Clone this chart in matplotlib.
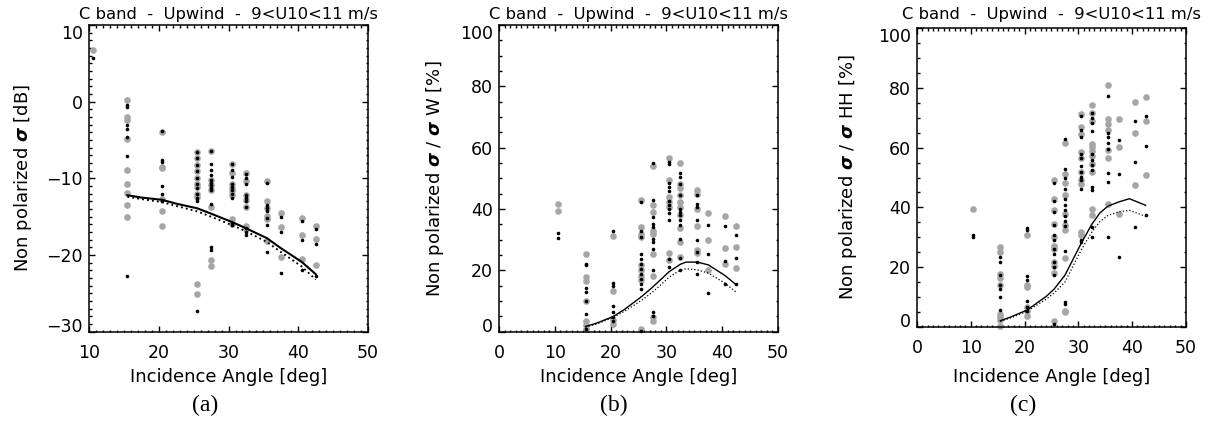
import numpy as np
import matplotlib
matplotlib.use("Agg")
import matplotlib.pyplot as plt
from matplotlib.ticker import MultipleLocator

# incidence angle columns shared by all panels
angles = [10.5, 15.5, 20.5, 25.5, 27.5, 30.5, 32.5, 35.5, 37.5, 40.5, 42.5]

# (a) non polarized sigma in dB
a_gray = [[6.8],
          [0.2, -2.0, -2.4, -4.9, -8.9, -10.7, -11.9, -13.5, -15.0],
          [-4.0, -8.5, -8.7, -12.7, -14.3, -16.2],
          [-6.5, -7.4, -8.3, -9.1, -10.0, -10.7, -11.1, -12.0, -12.4, -23.8, -25.1],
          [-6.4, -10.2, -10.9, -11.5, -13.7, -20.7, -21.4],
          [-8.1, -9.3, -10.7, -11.3, -11.7, -12.2, -15.3, -15.9],
          [-9.3, -10.4, -12.2, -12.8, -13.7, -16.2, -16.6],
          [-10.3, -13.0, -13.9, -14.9, -15.3, -18.2],
          [-14.5, -16.3, -20.2],
          [-15.2, -17.4, -20.5],
          [-16.2, -17.9, -21.3]]
a_black = [[5.7],
           [-0.4, -0.7, -3.0, -3.5, -4.6, -7.1, -22.7],
           [-3.8, -7.6, -7.9, -11.0, -12.0, -13.0],
           [-6.5, -7.4, -8.3, -9.1, -10.0, -10.7, -11.3, -12.0, -12.6, -13.0, -27.3],
           [-6.4, -8.1, -8.9, -9.6, -10.2, -10.6, -10.9, -11.2, -11.5, -13.3, -18.9, -19.4],
           [-8.1, -8.9, -9.8, -10.7, -11.1, -11.5, -12.0, -12.6, -15.8, -16.1],
           [-9.4, -10.0, -10.7, -12.2, -12.6, -13.0, -13.7, -16.5, -17.0, -17.4],
           [-10.6, -13.5, -13.9, -14.3, -15.2, -16.1, -19.6],
           [-15.0, -17.0, -22.3],
           [-15.6, -18.1, -22.0],
           [-16.6, -18.6, -22.7]]
a_curve_x = [15.5, 17.5, 20.5, 22.5, 25.5, 27.5, 30.5, 32.5, 35.5, 37.5, 40.5, 42.5]
a_solid = [-12.2, -12.5, -12.8, -13.3, -13.9, -14.6, -15.7, -16.5, -17.8, -19.1, -20.9, -22.5]
a_dotted = [-12.4, -12.7, -13.1, -13.6, -14.3, -15.0, -16.1, -16.9, -18.3, -19.6, -21.5, -23.2]

# (b) ratio to sigma VV in percent
b_gray = [[41.8, 39.4],
          [25.2, 17.8, 16.5, 10.1, 3.6, 2.3, 0.9],
          [31.1, 13.4, 3.8, 2.5],
          [42.9, 34.1, 32.0, 30.9, 21.6, 20.0, 18.3, 16.7, 0.9],
          [54.1, 41.2, 39.0, 33.0, 32.0, 25.4, 18.3, 4.7, 3.4],
          [56.5, 49.4, 43.9, 42.3, 40.7, 25.6, 23.4],
          [54.9, 48.3, 46.7, 44.5, 42.3, 40.7, 38.0, 33.9, 29.2, 24.5],
          [46.3, 45.0, 40.1, 34.4, 26.5, 25.8],
          [38.7, 30.0, 20.2],
          [37.6, 27.3, 22.1],
          [34.4, 27.5, 20.8]]
b_black = [[32.3, 30.4],
           [22.1, 21.6, 14.3, 12.9, 9.9, 5.8, 0.9],
           [33.0, 15.8, 15.0, 8.5, 6.3, 4.9, 3.6],
           [42.3, 33.0, 30.9, 25.4, 23.8, 22.1, 20.5, 18.9, 17.2, 15.6, 14.0, 0.3],
           [55.1, 42.9, 37.4, 35.2, 34.1, 30.3, 29.2, 27.0, 20.2, 6.3, 5.2],
           [55.4, 54.6, 48.5, 47.2, 45.9, 42.5, 41.4, 40.1, 38.7, 36.3, 23.6, 21.0],
           [51.8, 50.5, 48.3, 44.5, 40.1, 39.0, 38.0, 36.3, 34.7, 30.3, 24.1, 20.0],
           [44.5, 41.5, 40.7, 36.5, 29.8, 26.0, 22.7, 18.9],
           [34.9, 25.4, 12.5],
           [34.4, 23.2, 15.4],
           [31.6, 24.1, 15.4]]
b_curve_x = [15.5, 17.5, 20.5, 22.5, 25.5, 27.5, 30.5, 32.5, 33.5, 35.5, 37.5, 40.5, 42.5]
b_solid = [1.7, 2.8, 5.0, 7.3, 11.4, 14.5, 19.6, 22.0, 22.7, 22.7, 21.8, 18.3, 15.3]
b_dotted = [1.5, 2.5, 4.7, 6.7, 10.2, 12.9, 17.8, 20.1, 20.5, 20.2, 19.1, 15.8, 12.9]

# (c) ratio to sigma HH in percent
c_gray = [[39.6],
          [26.7, 25.0, 17.7, 16.4, 14.1, 4.3, 3.4, 2.2, 0.3],
          [30.7, 14.1, 13.2, 6.5, 5.2, 3.7],
          [49.1, 42.9, 39.2, 34.3, 30.0, 27.2, 26.1, 21.6, 20.5, 17.9, 2.0],
          [61.7, 51.3, 48.2, 44.1, 37.9, 34.0, 32.5, 23.1, 5.4, 4.8],
          [71.2, 67.0, 64.6, 58.6, 56.7, 51.9, 49.1, 47.8, 31.7, 30.6],
          [74.3, 71.5, 69.1, 61.4, 60.3, 58.9, 57.2, 54.7, 51.9, 39.6, 37.3],
          [81.1, 69.5, 67.9, 65.9, 59.2, 56.7, 41.0],
          [69.5, 60.3, 37.9],
          [75.4, 64.8, 47.4],
          [77.1, 69.1, 51.0]]
c_black = [[30.6, 30.0],
           [23.5, 21.6, 17.2, 13.9, 12.7, 9.9, 5.6],
           [33.1, 32.3, 16.9, 15.7, 8.5, 6.5, 5.4],
           [48.2, 42.2, 38.5, 34.0, 30.6, 28.9, 26.1, 24.4, 21.6, 20.0, 17.4, 0.9],
           [62.8, 52.7, 49.7, 46.0, 42.9, 40.7, 39.0, 37.0, 35.4, 33.6, 25.3, 8.4, 7.6],
           [70.6, 65.9, 63.5, 57.8, 56.7, 53.8, 51.9, 50.2, 49.1, 46.0, 29.1, 28.4],
           [71.5, 69.8, 68.2, 65.7, 57.8, 55.8, 54.1, 52.5, 46.9, 45.7, 33.4, 30.0],
           [77.4, 64.8, 63.5, 61.7, 59.4, 51.6, 48.5, 30.0],
           [62.6, 51.3, 23.5],
           [68.9, 55.3, 33.4],
           [70.6, 60.5, 37.3]]
c_curve_x = [15.5, 17.5, 20.5, 22.5, 24.0, 25.5, 27.5, 30.5, 32.5, 34.0, 35.5, 37.5, 39.5, 42.5]
c_solid = [2.0, 3.3, 5.6, 8.2, 10.1, 12.6, 17.2, 27.8, 34.3, 38.1, 40.4, 41.8, 42.9, 40.7]
c_dotted = [1.8, 3.0, 5.2, 7.5, 9.2, 11.3, 14.9, 25.6, 31.7, 35.2, 37.3, 38.5, 39.0, 37.0]

title = "C band  -  Upwind  -  9<U10<11 m/s"
xlab = "Incidence Angle [deg]"
ylabs = [r"Non polarized $\boldsymbol{\sigma}$ [dB]",
         r"Non polarized $\boldsymbol{\sigma}$ / $\boldsymbol{\sigma}$ W [%]",
         r"Non polarized $\boldsymbol{\sigma}$ / $\boldsymbol{\sigma}$ HH [%]"]
captions = ["(a)", "(b)", "(c)"]

gray = "#a6a6a6"


def expand(cols):
    xs, ys = [], []
    for ang, vals in zip(angles, cols):
        xs += [ang] * len(vals)
        ys += vals
    return xs, ys


fig = plt.figure(figsize=(12.28, 4.25), dpi=100)

boxes = [[0.0725, 0.2195, 0.2272, 0.7216],
         [0.4064, 0.2195, 0.2272, 0.7216],
         [0.7467, 0.2313, 0.2190, 0.7020]]
panels = [(a_gray, a_black, a_curve_x, a_solid, a_dotted, (10, 50), (-30, 10), 10, 1),
          (b_gray, b_black, b_curve_x, b_solid, b_dotted, (0, 50), (0, 100), 20, 5),
          (c_gray, c_black, c_curve_x, c_solid, c_dotted, (0, 50), (0, 100), 20, 5)]
ylab_x = [-0.237, -0.229, -0.257]
xlab_y = [-0.147, -0.147, -0.168]
title_pad = [4.5, 4.5, 6.5]
line_w = [1.5, 1.0, 1.0]

for i, (gcol, bcol, cx, sol, dot, xl, yl, ymaj, ymin) in enumerate(panels):
    ax = fig.add_axes(boxes[i])
    gx, gy = expand(gcol)
    bx, by = expand(bcol)
    ax.plot(gx, gy, "o", color=gray, ms=4.8, mew=0, clip_on=False, zorder=2)
    ax.plot(bx, by, "o", color="black", ms=2.6, mew=0, clip_on=False, zorder=3)
    ax.plot(cx, sol, "-", color="black", lw=line_w[i], zorder=4)
    ax.plot(cx, dot, ":", color="black", lw=line_w[i] * 0.9, zorder=4)

    ax.set_xlim(*xl)
    ax.set_ylim(*yl)
    ax.set_xticks(np.arange(xl[0], xl[1] + 1, 10))
    ax.set_yticks(np.arange(yl[0], yl[1] + 1, ymaj))
    ax.xaxis.set_minor_locator(MultipleLocator(1))
    ax.yaxis.set_minor_locator(MultipleLocator(ymin))
    ax.tick_params(which="both", direction="in", top=True, right=True,
                   width=1.0, labelsize=12.5)
    ax.tick_params(which="major", length=4.0)
    ax.tick_params(which="minor", length=1.8)
    ax.tick_params(axis="x", pad=9)
    ax.tick_params(axis="y", pad=4.5)
    for s in ax.spines.values():
        s.set_linewidth(1.1)
    ylabels = ax.get_yticklabels()
    ylabels[0].set_va("baseline")
    ylabels[-1].set_va("top")

    ax.set_title(title, fontsize=11.8, pad=title_pad[i])
    ax.set_xlabel(xlab, fontsize=13, va="center")
    ax.xaxis.set_label_coords(0.5, xlab_y[i])
    ax.set_ylabel(ylabs[i], fontsize=13, va="center")
    ax.yaxis.set_label_coords(ylab_x[i], 0.5)

    fig.text((i + 0.5) / 3, 0.047, captions[i], ha="center", va="center",
             family="Liberation Serif", fontsize=17)

fig.savefig("out.png", dpi=100)
